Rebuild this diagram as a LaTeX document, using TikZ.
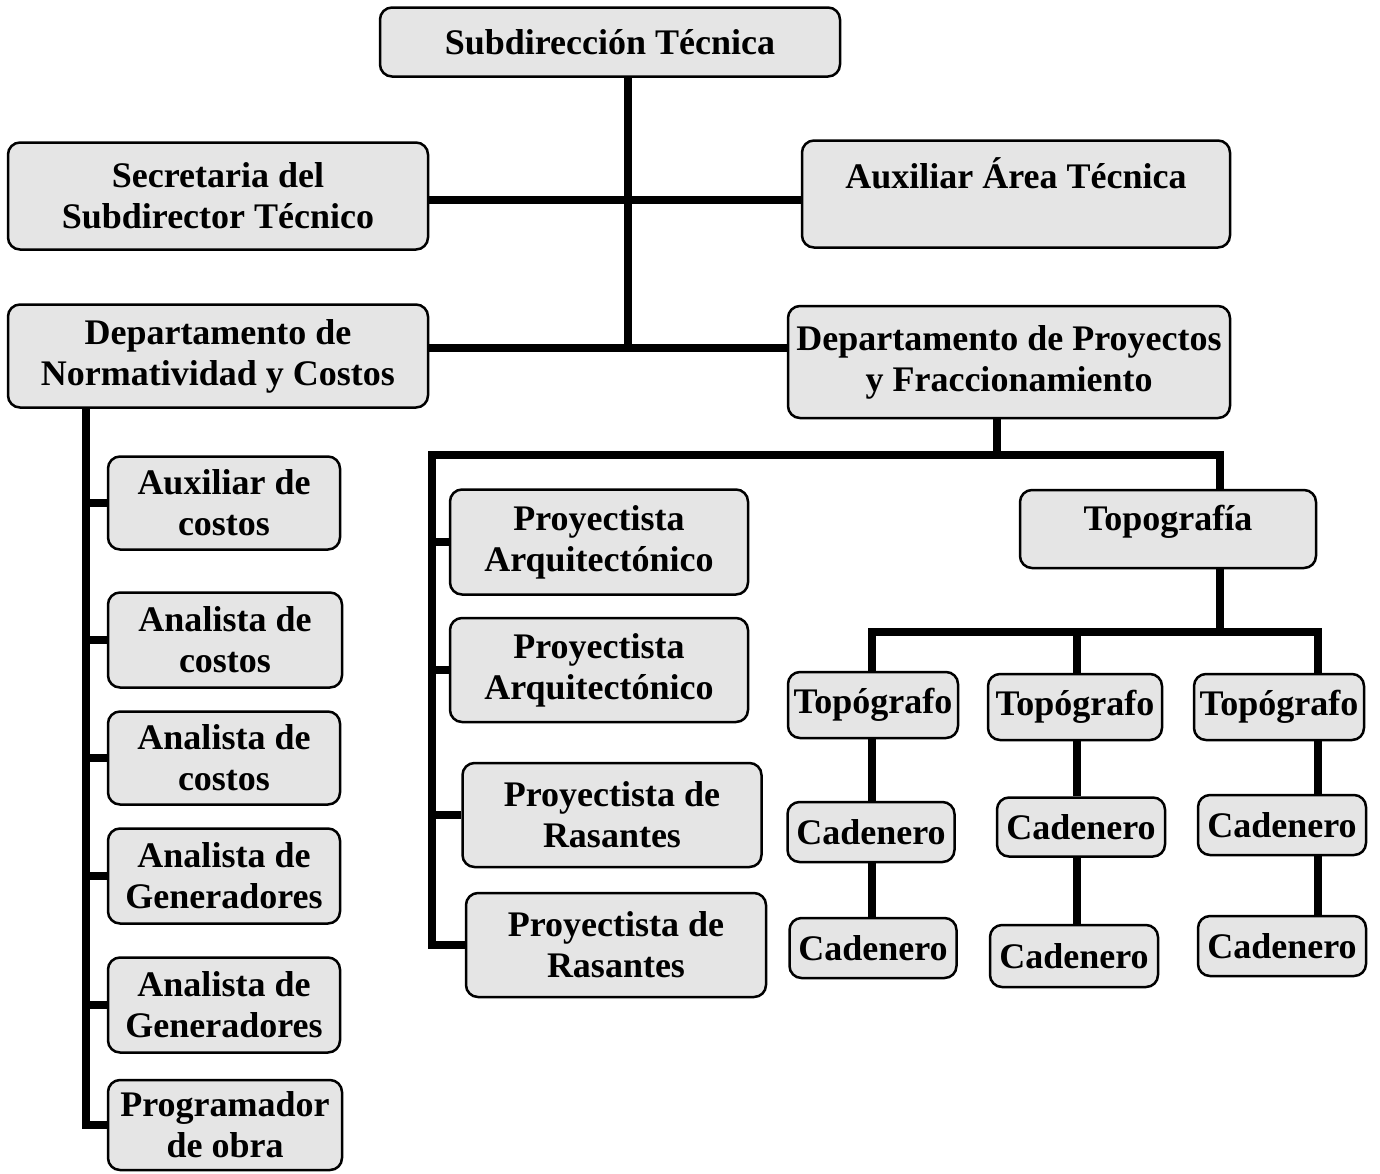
\documentclass[tikz,border=0pt]{standalone}
\usepackage{fontspec}
\setmainfont{Liberation Serif}
\definecolor{boxgray}{gray}{0.9}
\tikzset{
  box/.style={draw, line width=2.5pt, rounded corners=12pt, fill=boxgray, align=center,
    inner sep=2pt, font=\bfseries\fontsize{36}{41}\selectfont},
  conn/.style={line width=8pt},
  sz/.style 2 args={minimum width=#1pt, minimum height=#2pt}
}

\begin{document}
\begin{tikzpicture}[x=1pt, y=-1pt]
\useasboundingbox (0,0) rectangle (1380,1173);

% Head and staff
\node[box, sz={460}{69}] (sub) at (610,42) {Subdirección Técnica};
\node[box, sz={420}{107}] (sec) at (218,196) {Secretaria del\\Subdirector Técnico};
\node[box, sz={428}{107}] (aux) at (1016,194) {Auxiliar Área Técnica\\\mbox{}};

% Departments
\node[box, sz={420}{103}] (norm) at (218,356) {Departamento de\\Normatividad y Costos};
\node[box, sz={442}{112}] (proy) at (1009,362) {Departamento de Proyectos\\y Fraccionamiento};

% Costs column
\node[box, sz={232}{93}] (ac) at (224,503) {Auxiliar de\\costos};
\node[box, sz={234}{95}] (an1) at (225,640) {Analista de\\costos};
\node[box, sz={232}{93}] (an2) at (224,758) {Analista de\\costos};
\node[box, sz={232}{95}] (ag1) at (224,876) {Analista de\\Generadores};
\node[box, sz={232}{95}] (ag2) at (224,1005) {Analista de\\Generadores};
\node[box, sz={234}{90}] (pg) at (225,1125) {Programador\\de obra};

% Projects column
\node[box, sz={298}{105}] (pa1) at (599,542) {Proyectista\\Arquitectónico};
\node[box, sz={298}{104}] (pa2) at (599,670) {Proyectista\\Arquitectónico};
\node[box, sz={299}{104}] (pr1) at (612,815) {Proyectista de\\Rasantes};
\node[box, sz={300}{104}] (pr2) at (616,945) {Proyectista de\\Rasantes};

% Topography
\node[box, sz={296}{78}, text depth=22pt] (topo) at (1168,529) {Topografía};
\node[box, sz={170}{66}] (tp1) at (873,705) {Topógrafo};
\node[box, sz={174}{66}] (tp2) at (1075,707) {Topógrafo};
\node[box, sz={170}{66}] (tp3) at (1279,707) {Topógrafo};
\node[box, sz={167}{60}] (cd11) at (871,832) {Cadenero};
\node[box, sz={167}{60}] (cd12) at (873,948) {Cadenero};
\node[box, sz={168}{59}] (cd21) at (1081,827) {Cadenero};
\node[box, sz={168}{62}] (cd22) at (1074,956) {Cadenero};
\node[box, sz={168}{60}] (cd31) at (1282,825) {Cadenero};
\node[box, sz={168}{60}] (cd32) at (1282,946) {Cadenero};

% Junction points
\coordinate (j1) at (628,200);
\coordinate (j2) at (628,348);
\coordinate (lx) at (86,408);
\coordinate (pk) at (997,455);
\coordinate (pl) at (432,455);
\coordinate (pr) at (1220,455);
\coordinate (t1) at (872,632);
\coordinate (t2) at (1077,632);
\coordinate (t3) at (1318,632);

% Main trunk
\draw[conn] (sub.south -| j1) -- (j2);
\draw[conn] (sec.east |- j1) -- (aux.west |- j1);
\draw[conn] (norm.east |- j2) -- (proy.west |- j2);

% Costs branches
\draw[conn] (norm.south -| lx) |- (pg.west);
\foreach \nd in {ac,an1,an2,ag1,ag2}
  \draw[conn] (lx |- \nd.west) -- (\nd.west);

% Projects branches
\draw[conn] (proy.south -| pk) -- (pk);
\draw[conn] (pr2.west) -| (pl) -- (pr) -- (topo.north -| pr);
\foreach \nd in {pa1,pa2,pr1}
  \draw[conn] (pl |- \nd.west) -- (\nd.west);

% Topography branches
\draw[conn] (topo.south -| pr) -- (pr |- t1);
\draw[conn] (tp1.north -| t1) -- (t1) -- (t3) -- (tp3.north -| t3);
\draw[conn] (t2) -- (tp2.north -| t2);
\foreach \c/\a/\b/\d in {t1/tp1/cd11/cd12, t2/tp2/cd21/cd22, t3/tp3/cd31/cd32} {
  \draw[conn] (\a.south -| \c) -- (\b.north -| \c);
  \draw[conn] (\b.south -| \c) -- (\d.north -| \c);
}

\end{tikzpicture}
\end{document}
